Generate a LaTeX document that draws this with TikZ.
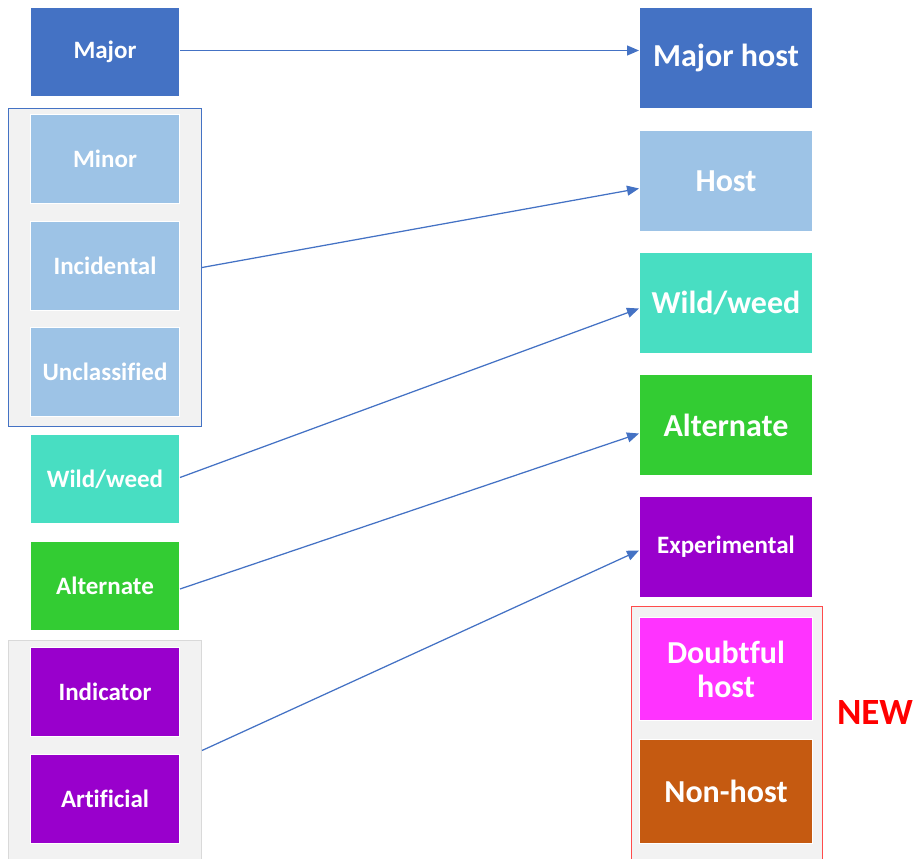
\documentclass[tikz,border=0pt]{standalone}
\usepackage{fontspec}
\setmainfont{Carlito}[Ligatures=NoCommon]
\usetikzlibrary{arrows.meta,calc}
\definecolor{cmajor}{HTML}{4472C4}
\definecolor{clight}{HTML}{9DC3E6}
\definecolor{cwild}{HTML}{48DEC2}
\definecolor{calt}{HTML}{33CC33}
\definecolor{cpurple}{HTML}{9900CC}
\definecolor{cmag}{HTML}{FF33FF}
\definecolor{cbrown}{HTML}{C55A11}
\definecolor{cgroup}{HTML}{F2F2F2}
\definecolor{cgrayb}{HTML}{D9D9D9}
\definecolor{credb}{HTML}{FF4B4B}
\definecolor{carrow}{HTML}{4472C4}
\tikzset{
  lbox/.style={draw=white, line width=1pt, anchor=north west, minimum width=149pt, minimum height=89pt, inner sep=0pt, text=white, font=\bfseries\fontsize{25}{30}\selectfont},
  rbox/.style={draw=white, line width=1pt, anchor=north west, minimum width=173pt, minimum height=101pt, inner sep=0pt, text=white, align=center, font=\bfseries\fontsize{32}{34}\selectfont},
  grp/.style={anchor=north west, inner sep=0pt, fill=cgroup, line width=1pt},
  conn/.style={draw=carrow, line width=1.25pt, -{Triangle[length=12pt,width=10pt]}}
}
\begin{document}
\begin{tikzpicture}[x=1pt,y=-1pt]
\useasboundingbox (0,0) rectangle (919,859);
% groups
\node[grp, draw=cmajor, minimum width=193pt, minimum height=318pt] (gblue) at (8,108) {};
\node[grp, draw=cgrayb, minimum width=193pt, minimum height=220pt] (ggray) at (8,640) {};
\node[grp, draw=credb, minimum width=191pt, minimum height=254pt] (gred) at (631,606) {};
% left column
\node[lbox, fill=cmajor] (lmajor) at (30,7) {Major};
\node[lbox, fill=clight] (lminor) at (30,114) {Minor};
\node[lbox, fill=clight] (linc) at (30,221) {Incidental};
\node[lbox, fill=clight] (lunc) at (30,327) {Unclassified};
\node[lbox, fill=cwild] (lwild) at (30,434) {Wild/weed};
\node[lbox, fill=calt] (lalt) at (30,541) {Alternate};
\node[lbox, fill=cpurple] (lind) at (30,647) {Indicator};
\node[lbox, fill=cpurple] (lart) at (30,754) {Artificial};
% right column
\node[rbox, fill=cmajor] (rmajor) at (639,7) {Major host};
\node[rbox, fill=clight] (rhost) at (639,130) {Host};
\node[rbox, fill=cwild] (rwild) at (639,252) {Wild/weed};
\node[rbox, fill=calt] (ralt) at (639,374) {Alternate};
\node[rbox, fill=cpurple, font=\bfseries\fontsize{25}{30}\selectfont] (rexp) at (639,496) {Experimental};
\node[rbox, fill=cmag, minimum height=103pt] (rdoubt) at (639,617) {Doubtful\\host};
\node[rbox, fill=cbrown, minimum height=104pt] (rnon) at (639,739) {Non-host};
\node[text=red, font=\bfseries\fontsize{37}{40}\selectfont, inner sep=0pt] (new) at (875,712) {NEW};
% connectors
\draw[conn] ([yshift=1.5pt]lmajor.east) -- ([yshift=7.5pt]rmajor.west);
\draw[conn] (gblue.east) -- ([yshift=-7.5pt]rhost.west);
\draw[conn] ([yshift=1.5pt]lwild.east) -- ([yshift=-5.5pt]rwild.west);
\draw[conn] ([yshift=-3pt]lalt.east) -- ([yshift=-8.5pt]ralt.west);
\draw[conn] (ggray.east) -- ([yshift=-3.5pt]rexp.west);
\end{tikzpicture}
\end{document}
